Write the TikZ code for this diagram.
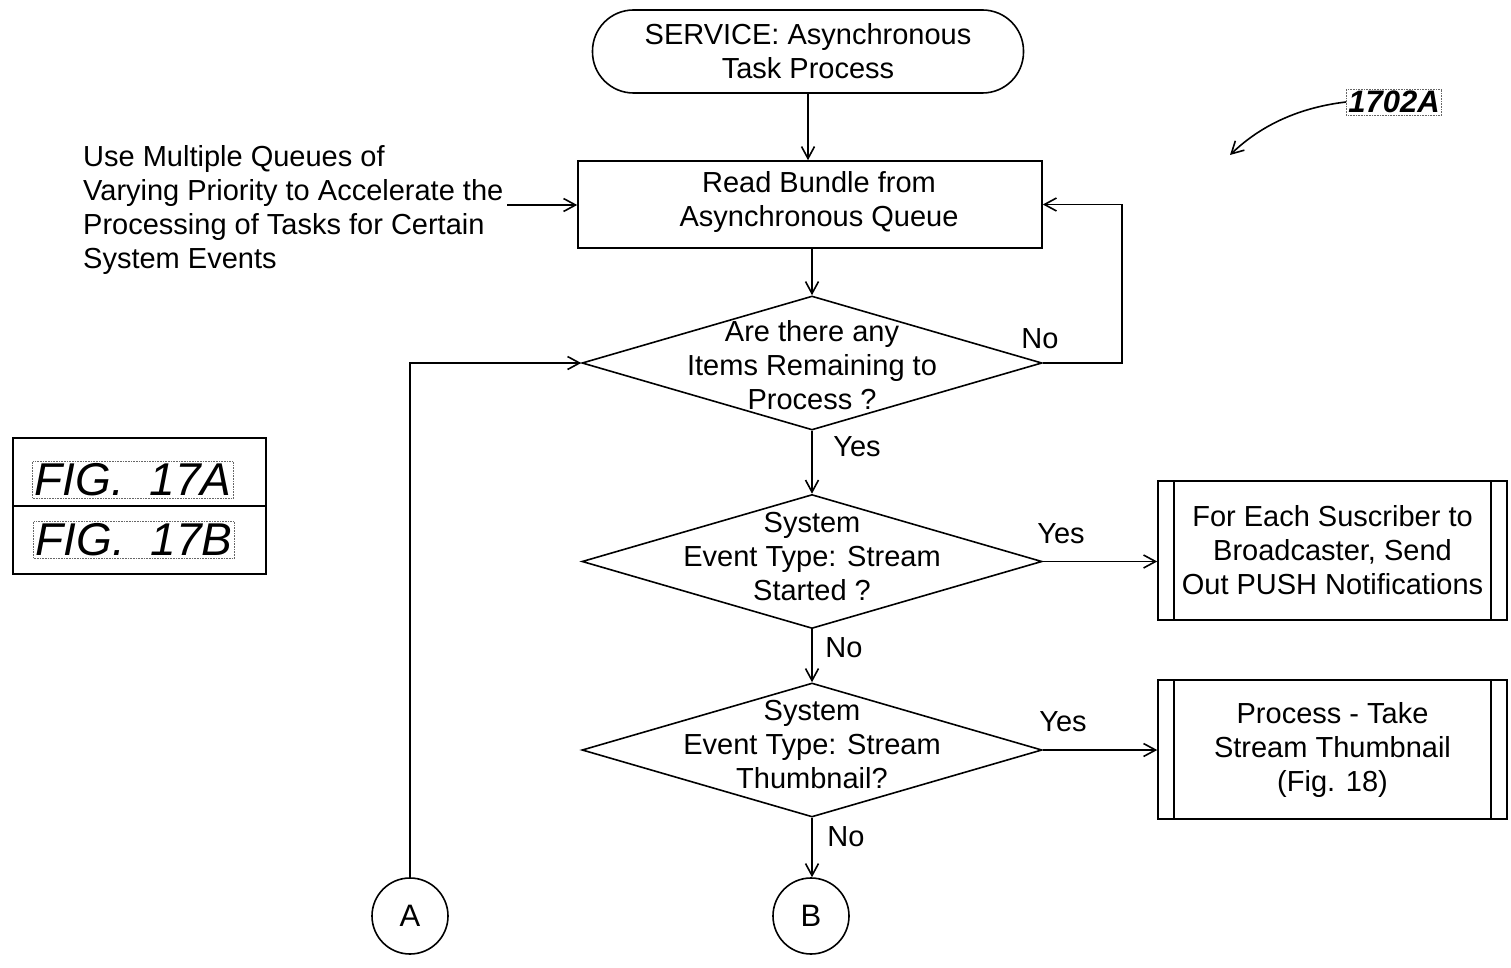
\documentclass[tikz,border=0pt]{standalone}
\usepackage{fontspec}
\setmainfont{Liberation Sans}
\usetikzlibrary{arrows.meta,shapes.geometric}
\begin{document}
\begin{tikzpicture}[x=1pt,y=-1pt,
  every node/.style={font=\fontsize{29}{34}\selectfont},
  ln/.style={line width=1.6pt},
  arr/.style={ln,-{Straight Barb[length=12pt,width=13pt,line width=1.6pt]}},
  txt/.style={align=center,inner sep=0pt},
  term/.style={draw,ln,rounded corners=41pt,minimum width=431pt,minimum height=83pt,align=center},
  proc/.style={draw,ln,minimum width=464pt,minimum height=87pt},
  dia/.style={draw,ln,diamond,minimum width=460pt,minimum height=134pt,inner sep=0pt},
  pre/.style={draw,ln,minimum width=349pt,minimum height=139pt,align=center},
  conn/.style={draw,ln,circle,minimum size=76pt,inner sep=0pt},
  lbl/.style={inner sep=0pt},
  figcell/.style={draw,ln,minimum width=253pt,minimum height=68pt},
  figlbl/.style={draw=black!60,densely dotted,line width=0.6pt,inner sep=2pt,font=\fontsize{46}{50}\selectfont\itshape},
  reflbl/.style={draw=black!60,densely dotted,line width=0.6pt,inner sep=2pt,font=\fontsize{31}{34}\selectfont\bfseries\itshape}
]
\useasboundingbox (0,0) rectangle (1511,968);

% start
\node[term] (st) at (808,51.5) {SERVICE: Asynchronous\\Task Process};
% read box
\node[proc] (rb) at (810,204.5) {};
\node[txt] (rbt) at (819,202) {Read Bundle from\\Asynchronous Queue};
% annotation
\node[txt,align=left,anchor=west] (note) at (83,210) {Use Multiple Queues of\\Varying Priority to Accelerate the\\Processing of Tasks for Certain\\System Events};
\coordinate (nt) at (507,205);

% diamonds
\node[dia] (d1) at (812,363) {};
\node[txt] (d1t) at (812,365) {Are there any\\Items Remaining to\\Process ?};
\node[dia] (d2) at (812,561.5) {};
\node[txt] (d2t) at (812,557) {System\\Event Type: Stream\\Started ?};
\node[dia] (d3) at (812,750) {};
\node[txt] (d3t) at (812,745) {System\\Event Type: Stream\\Thumbnail?};

% predefined processes
\node[pre] (p1) at (1332.5,550.5) {For Each Suscriber to\\Broadcaster, Send\\Out PUSH Notifications};
\draw[ln] ([xshift=17pt]p1.north west) -- ([xshift=17pt]p1.south west);
\draw[ln] ([xshift=-17pt]p1.north east) -- ([xshift=-17pt]p1.south east);
\node[pre] (p2) at (1332.5,749.5) {Process - Take\\Stream Thumbnail\\(Fig. 18)};
\draw[ln] ([xshift=17pt]p2.north west) -- ([xshift=17pt]p2.south west);
\draw[ln] ([xshift=-17pt]p2.north east) -- ([xshift=-17pt]p2.south east);

% connectors
\node[conn] (ca) at (410,916) {\fontsize{31}{34}\selectfont A};
\node[conn] (cb) at (811,916) {\fontsize{31}{34}\selectfont B};

% FIG box
\node[figcell] (f1) at (139.5,472) {};
\node[figcell] (f2) at (139.5,540) {};
\node[figlbl] (fa) at (133,480) {FIG.\ \ 17A};
\node[figlbl] (fb) at (134,540) {FIG.\ \ 17B};

% reference label
\node[reflbl] (ref) at (1394,102) {1702A};
\coordinate (refend) at (1230,155);
\draw[arr] (ref.west) .. controls (1295,108) and (1258,128) .. (refend);

% arrows
\draw[arr] (st) -- (st.south |- rb.north);
\draw[arr] (nt) -- (nt -| rb.west);
\draw[arr] (d1.north |- rb.south) -- (d1.north);
\coordinate (lp) at (1122,363);
\draw[arr] (d1.east) -- (lp) |- (rb.east);
\node[lbl] (no1) at (1040,339) {No};
\draw[arr] (d1.south) -- (d2.north);
\node[lbl] (yes1) at (857,447) {Yes};
\draw[arr] (d2.east) -- (d2.east -| p1.west);
\node[lbl] (yes2) at (1061,534) {Yes};
\draw[arr] (d2.south) -- (d3.north);
\node[lbl] (no2) at (844,648) {No};
\draw[arr] (d3.east) -- (d3.east -| p2.west);
\node[lbl] (yes3) at (1063,722) {Yes};
\draw[arr] (d3.south) -- (d3.south |- cb.north);
\node[lbl] (no3) at (846,837) {No};
\draw[arr] (ca.north) |- (d1.west);
\end{tikzpicture}
\end{document}
